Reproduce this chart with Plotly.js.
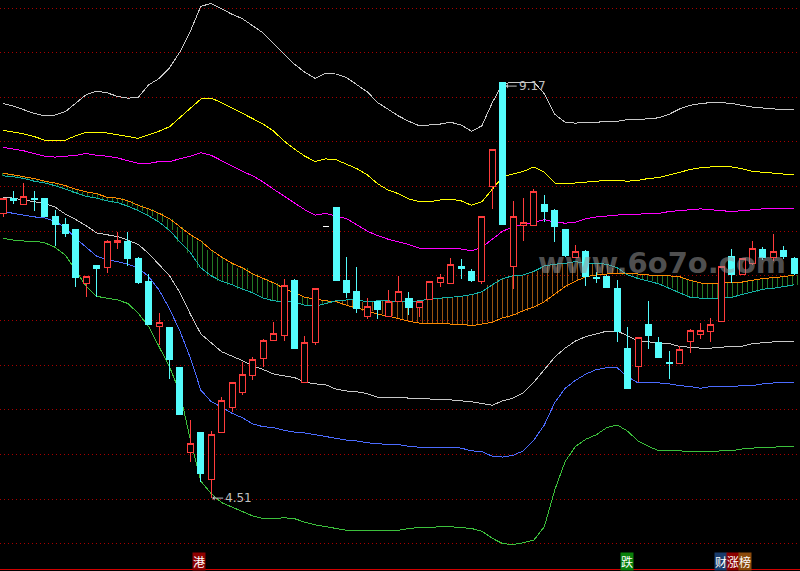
<!DOCTYPE html>
<html><head><meta charset="utf-8">
<script src="https://cdn.plot.ly/plotly-3.0.1.min.js"></script>
<style>html,body{margin:0;padding:0;background:#000;}#chart{width:800px;height:571px;}
#chart .scatterlayer path, #chart .boxlayer path, #chart .gridlayer path, #chart .xlines-above path {shape-rendering:crispEdges;}</style>
</head><body><div id="chart"></div>
<script>
// ---- candle data (index = trading day) ----
const openP = [7.70,7.87,7.80,7.87,7.87,7.67,7.58,7.52,6.91,7.12,
 7.09,7.37,7.38,7.19,6.94,6.43,6.42,5.97,5.02,5.25,
 4.72,5.25,5.52,5.69,5.88,6.07,6.27,6.33,6.95,5.80,
 6.25,7.55,7.77,6.95,6.83,6.54,6.71,6.54,6.71,6.75,
 6.65,6.74,6.93,6.91,7.11,7.05,6.94,8.00,9.17,7.10,
 7.56,7.56,7.80,7.73,7.52,7.20,7.27,6.98,6.99,6.86,
 6.19,5.98,6.46,6.25,6.03,6.02,6.26,6.34,6.38,6.49,
 7.22,7.01,7.14,7.30,7.20,7.28,7.19];
const highP = [7.87,7.95,8.04,7.95,7.87,7.74,7.65,7.52,7.00,7.12,
 7.40,7.49,7.49,7.21,7.02,6.58,6.42,5.97,5.39,5.25,
 5.26,5.64,5.80,6.03,6.09,6.29,6.48,6.96,6.96,6.33,
 6.86,7.55,7.77,7.21,7.10,6.75,6.71,6.84,7.00,6.82,
 6.71,6.94,7.02,7.20,7.19,7.08,7.66,8.42,9.17,7.84,
 7.87,7.97,7.91,7.75,7.52,7.35,7.29,7.04,7.01,6.95,
 6.43,6.31,6.72,6.31,6.16,6.21,6.40,6.47,6.53,7.11,
 7.30,7.19,7.39,7.32,7.47,7.33,7.21];
const lowP = [7.66,7.80,7.80,7.73,7.66,7.33,7.43,6.87,6.76,6.76,
 7.03,7.30,7.11,6.91,6.46,6.23,5.84,5.45,4.91,4.69,
 4.51,5.25,5.47,5.67,5.83,5.98,6.27,6.27,6.19,5.80,
 6.23,7.55,6.95,6.75,6.58,6.52,6.52,6.54,6.71,6.56,
 6.54,6.74,6.87,6.91,6.96,6.93,6.91,7.75,7.58,6.85,
 7.39,7.56,7.60,7.38,7.21,7.20,6.89,6.92,6.87,6.26,
 5.74,5.81,6.18,6.09,5.84,6.02,6.14,6.29,6.26,6.49,
 6.92,7.01,7.12,7.18,7.17,7.19,7.01];
const closeP = [7.87,7.84,7.89,7.86,7.66,7.58,7.47,6.98,6.99,7.08,
 7.38,7.40,7.19,6.93,6.46,6.48,6.06,5.45,5.12,4.79,
 5.22,5.60,5.80,5.89,6.06,6.27,6.35,6.89,6.19,6.25,
 6.86,7.55,6.95,6.81,6.63,6.66,6.62,6.71,6.82,6.64,
 6.71,6.94,6.98,7.13,7.08,6.95,7.66,8.42,7.58,7.66,
 7.60,7.94,7.72,7.55,7.23,7.27,6.99,6.97,6.87,6.38,
 5.74,6.31,6.33,6.09,6.02,6.18,6.39,6.39,6.46,7.11,
 7.01,7.19,7.31,7.20,7.27,7.22,7.03];

// ---- indicator lines ----
const upper3 = [8.93,8.90,8.86,8.82,8.79,8.80,8.84,8.93,9.03,9.07,
 9.05,9.01,8.99,9.00,9.14,9.21,9.33,9.51,9.74,10.02,
 10.05,9.99,9.93,9.88,9.80,9.72,9.60,9.49,9.37,9.28,
 9.21,9.27,9.26,9.22,9.14,9.06,8.94,8.86,8.79,8.73,
 8.68,8.69,8.70,8.72,8.69,8.62,8.68,8.94,9.15,9.17,
 9.17,9.17,9.04,8.81,8.72,8.71,8.72,8.72,8.73,8.73,
 8.75,8.75,8.76,8.77,8.81,8.87,8.91,8.93,8.94,8.94,
 8.93,8.91,8.89,8.88,8.87,8.86,8.86];
const upper2 = [8.63,8.61,8.59,8.56,8.52,8.52,8.52,8.57,8.61,8.61,
 8.60,8.58,8.56,8.54,8.58,8.62,8.67,8.77,8.87,8.98,
 8.99,8.94,8.88,8.82,8.76,8.70,8.62,8.51,8.42,8.34,
 8.28,8.31,8.30,8.25,8.20,8.13,8.03,7.96,7.92,7.86,
 7.83,7.83,7.85,7.86,7.84,7.79,7.83,7.97,8.11,8.14,
 8.17,8.22,8.16,8.04,8.03,8.04,8.05,8.06,8.07,8.07,
 8.06,8.07,8.09,8.10,8.13,8.16,8.19,8.21,8.22,8.23,
 8.22,8.20,8.17,8.16,8.15,8.14,8.13];
const upper1 = [8.44,8.42,8.40,8.37,8.34,8.33,8.34,8.35,8.37,8.35,
 8.34,8.32,8.29,8.26,8.26,8.28,8.28,8.31,8.34,8.38,
 8.35,8.29,8.23,8.17,8.12,8.05,7.97,7.89,7.82,7.74,
 7.68,7.70,7.67,7.64,7.57,7.50,7.45,7.41,7.38,7.35,
 7.31,7.31,7.31,7.31,7.30,7.28,7.32,7.41,7.50,7.55,
 7.57,7.60,7.63,7.60,7.59,7.60,7.64,7.66,7.67,7.68,
 7.69,7.69,7.70,7.70,7.72,7.73,7.74,7.75,7.74,7.73,
 7.72,7.73,7.74,7.75,7.75,7.75,7.75];
const midOrange = [8.15,8.13,8.11,8.09,8.06,8.04,8.01,7.97,7.94,7.92,
 7.88,7.87,7.84,7.79,7.75,7.70,7.64,7.55,7.46,7.39,
 7.29,7.21,7.14,7.09,7.02,6.97,6.92,6.86,6.81,6.76,
 6.74,6.72,6.71,6.67,6.64,6.61,6.57,6.55,6.52,6.49,
 6.47,6.47,6.47,6.46,6.46,6.44,6.46,6.48,6.53,6.56,
 6.61,6.65,6.71,6.80,6.88,6.94,6.99,7.01,7.02,7.03,
 7.03,7.02,7.01,7.00,7.00,6.99,6.95,6.92,6.91,6.92,
 6.92,6.93,6.95,6.97,6.98,6.99,7.01];
const midTeal = [8.12,8.11,8.09,8.06,8.04,8.01,7.97,7.93,7.89,7.87,
 7.84,7.82,7.78,7.73,7.67,7.60,7.51,7.38,7.26,7.09,
 7.00,6.94,6.90,6.85,6.81,6.75,6.72,6.71,6.71,6.67,
 6.66,6.69,6.72,6.73,6.73,6.71,6.72,6.72,6.71,6.71,
 6.72,6.74,6.75,6.76,6.77,6.79,6.82,6.90,6.97,7.00,
 7.01,7.05,7.11,7.13,7.14,7.16,7.14,7.14,7.13,7.09,
 7.01,6.97,6.94,6.91,6.86,6.81,6.76,6.75,6.74,6.75,
 6.76,6.79,6.82,6.85,6.86,6.88,6.90];
const lower1 = [7.88,7.87,7.85,7.83,7.81,7.77,7.69,7.63,7.56,7.48,
 7.46,7.44,7.40,7.35,7.25,7.13,7.00,6.81,6.57,6.35,
 6.25,6.15,6.10,6.05,5.99,5.95,5.90,5.88,5.86,5.81,
 5.79,5.78,5.73,5.71,5.70,5.68,5.64,5.64,5.64,5.63,
 5.63,5.62,5.61,5.61,5.60,5.59,5.57,5.55,5.60,5.63,
 5.69,5.81,5.95,6.09,6.19,6.27,6.32,6.35,6.38,6.38,
 6.33,6.27,6.26,6.25,6.24,6.21,6.20,6.19,6.19,6.20,
 6.21,6.21,6.24,6.25,6.26,6.26,6.26];
const lower2 = [7.72,7.70,7.68,7.66,7.65,7.61,7.54,7.42,7.32,7.22,
 7.18,7.16,7.13,7.09,6.99,6.84,6.63,6.38,6.08,5.72,
 5.59,5.53,5.46,5.41,5.34,5.31,5.30,5.27,5.25,5.24,
 5.22,5.20,5.18,5.16,5.15,5.13,5.12,5.11,5.11,5.09,
 5.08,5.08,5.08,5.08,5.07,5.04,5.03,4.98,4.97,4.99,
 5.04,5.16,5.33,5.58,5.74,5.83,5.90,5.95,5.97,5.97,
 5.87,5.80,5.80,5.80,5.79,5.77,5.76,5.74,5.76,5.76,
 5.76,5.77,5.77,5.79,5.80,5.81,5.81];
const lower3 = [7.42,7.40,7.39,7.39,7.37,7.32,7.23,7.05,6.88,6.77,
 6.75,6.73,6.69,6.58,6.43,6.21,5.98,5.69,5.16,4.70,
 4.56,4.46,4.41,4.36,4.31,4.28,4.28,4.29,4.28,4.24,
 4.21,4.19,4.17,4.15,4.15,4.15,4.15,4.15,4.15,4.17,
 4.18,4.18,4.19,4.19,4.18,4.17,4.14,4.06,4.00,3.99,
 4.01,4.04,4.19,4.60,4.92,5.09,5.17,5.22,5.30,5.33,
 5.26,5.15,5.09,5.04,5.04,5.04,5.03,5.03,5.03,5.04,
 5.04,5.06,5.07,5.08,5.08,5.09,5.09];

const gridPrices = [4.0,4.5,5.0,5.5,6.0,6.5,7.0,7.5,8.0,8.5,9.0,9.5,10.0];
const hiLabel = {i:48, v:9.17, text:'9.17'};
const loLabel = {i:20, v:4.51, text:'4.51'};

const idx = openP.map((_, i) => i);
const XR = [-0.288, 76.56];
const YR = [3.716, 10.0896];

// cloud hatch between orange and teal
const gBase = [], gH = [], oBase = [], oH = [];
idx.forEach(i => {
  const a = midOrange[i], b = midTeal[i];
  if (a >= b) { gBase.push(b); gH.push(a - b); oBase.push(null); oH.push(null); }
  else { oBase.push(a); oH.push(b - a); gBase.push(null); gH.push(null); }
});

const traces = [];
traces.push({type:'bar', x:idx, y:gH, base:gBase, width:1, hoverinfo:'skip',
  marker:{color:'#3cc83c', line:{width:0}, pattern:{shape:'|', size:5, solidity:0.2, fgopacity:0.6}}});
traces.push({type:'bar', x:idx, y:oH, base:oBase, width:1, hoverinfo:'skip',
  marker:{color:'#ff8c1a', line:{width:0}, pattern:{shape:'|', size:5, solidity:0.2, fgopacity:0.6}}});

const lineDefs = [
  [upper3, '#c8c8c8'], [upper2, '#ffff00'], [upper1, '#ff00ff'],
  [midOrange, '#ff8a00'], [midTeal, '#14b4aa'],
  [lower1, '#c8c8c8'], [lower2, '#4c6cff'], [lower3, '#3cc03c']
];
lineDefs.forEach(([ys, c]) => traces.push({type:'scatter', mode:'lines', x:idx, y:ys,
  line:{color:c, width:1}, hoverinfo:'skip'}));

// candles (drawn on overlaying axes so they sit above the lines)
const isFlat = i => openP[i] === closeP[i] && highP[i] === lowP[i];
const norm = idx.filter(i => !isFlat(i));
const flat = idx.filter(i => isFlat(i));
traces.push({type:'candlestick', xaxis:'x2', yaxis:'y2', x:norm,
  open:norm.map(i=>openP[i]), high:norm.map(i=>highP[i]), low:norm.map(i=>lowP[i]), close:norm.map(i=>closeP[i]),
  increasing:{line:{color:'#ff3c3c', width:1}, fillcolor:'#000000'},
  decreasing:{line:{color:'#54fcfc', width:1}, fillcolor:'#54fcfc'},
  whiskerwidth:0, hoverinfo:'skip'});
traces.push({type:'candlestick', xaxis:'x2', yaxis:'y2', x:flat,
  open:flat.map(i=>openP[i]), high:flat.map(i=>highP[i]), low:flat.map(i=>lowP[i]), close:flat.map(i=>closeP[i]),
  increasing:{line:{color:'#ffffff', width:1}, fillcolor:'#ffffff'},
  decreasing:{line:{color:'#ffffff', width:1}, fillcolor:'#ffffff'},
  whiskerwidth:0, hoverinfo:'skip'});

const tagFont = {family:'Noto Sans CJK SC', size:12, color:'#ffffff'};
const tag = (txt, xpx, bg) => ({xref:'paper', yref:'paper', x:xpx/800, y:(569-561.5)/569,
  xanchor:'center', yanchor:'middle', text:txt, showarrow:false, font:tagFont, bgcolor:bg, borderpad:0});

const layout = {
  width:800, height:571, margin:{l:0, r:0, t:0, b:2, pad:0},
  paper_bgcolor:'#000000', plot_bgcolor:'#000000', showlegend:false,
  barmode:'overlay', bargap:0, boxgap:0.42, boxgroupgap:0,
  xaxis:{range:XR, showgrid:false, zeroline:false, showticklabels:false, ticks:'',
    showline:true, linecolor:'#d00000', linewidth:1, rangeslider:{visible:false}, fixedrange:true},
  yaxis:{range:YR, tickvals:gridPrices, showticklabels:false, ticks:'', showgrid:true,
    gridcolor:'#a80000', griddash:'1px,3px', gridwidth:1, zeroline:false, showline:false, fixedrange:true},
  xaxis2:{overlaying:'x', range:XR, visible:false, rangeslider:{visible:false}, fixedrange:true},
  yaxis2:{overlaying:'y', range:YR, visible:false, fixedrange:true},
  annotations:[
    {xref:'paper', yref:'paper', x:662/800, y:(569-263)/569, xanchor:'center', yanchor:'middle',
      text:'<b>www.6o7o.com</b>', showarrow:false,
      font:{family:'DejaVu Sans', size:29, color:'rgba(150,150,150,0.55)'}},
    {xref:'x', yref:'y', x:hiLabel.i, y:hiLabel.v, text:hiLabel.text, showarrow:true,
      ax:14, ay:0, xanchor:'left', yanchor:'middle', arrowhead:1, arrowsize:0.8, arrowwidth:1,
      arrowcolor:'#c0c0c0', standoff:3, yshift:-4, font:{family:'DejaVu Sans', size:12, color:'#c0c0c0'}},
    {xref:'x', yref:'y', x:loLabel.i, y:loLabel.v, text:loLabel.text, showarrow:true,
      ax:12, ay:0, xanchor:'left', yanchor:'middle', arrowhead:1, arrowsize:0.8, arrowwidth:1,
      arrowcolor:'#c0c0c0', standoff:1, font:{family:'DejaVu Sans', size:12, color:'#c0c0c0'}},
    tag('港', 199, '#8c0000'),
    tag('跌', 626.5, '#0a800a'),
    tag('财', 720.5, '#1a3c6c'),
    tag('涨', 732.5, '#8c0000'),
    tag('榜', 744.5, '#8a4a0c')
  ]
};
Plotly.newPlot('chart', traces, layout, {staticPlot:true, displayModeBar:false});
</script></body></html>
